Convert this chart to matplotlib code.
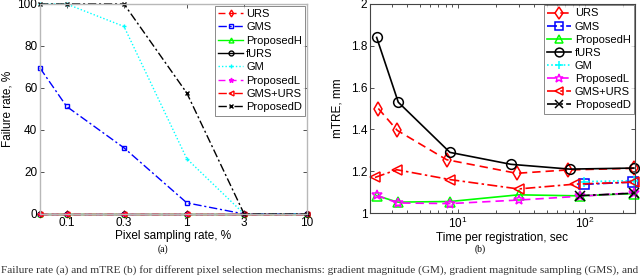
import matplotlib
matplotlib.use("Agg")
import matplotlib.pyplot as plt
from matplotlib.ticker import FixedLocator, FixedFormatter, NullFormatter, LogLocator

plt.rcParams['font.family'] = ['Liberation Sans', 'DejaVu Sans']
plt.rcParams['mathtext.fontset'] = 'custom'
plt.rcParams['mathtext.rm'] = 'Liberation Sans'

# ---------------- data (a) ----------------
rate = [0.06, 0.1, 0.3, 1, 3, 10]
fail_urs = [0, 0, 0, 0, 0, 0]
fail_gms = [69.5, 51.2, 31.5, 5.3, 0, 0]
fail_proposedh = [0, 0, 0, 0, 0, 0]
fail_furs = [0, 0, 0, 0, 0, 0]
fail_gm = [100, 100, 89.3, 26.3, 0, 0]
fail_proposedl = [0, 0, 0, 0, 0, 0]
fail_gmsurs = [0, 0, 0, 0, 0, 0]
fail_proposedd = [100, 100, 100, 57.6, 0, 0]
rate_ticks = [0.1, 0.3, 1, 3, 10]
rate_ticklabels = ['0.1', '0.3', '1', '3', '10']

# ---------------- data (b) ----------------
t_urs = [2.36, 3.33, 8.15, 29, 73, 245]
m_urs = [1.50, 1.395, 1.255, 1.19, 1.206, 1.214]
t_gms = [98, 240]
m_gms = [1.137, 1.148]
t_proposedh = [2.3, 3.35, 8.65, 30, 91, 243]
m_proposedh = [1.083, 1.052, 1.055, 1.087, 1.082, 1.093]
t_furs = [2.29, 3.39, 8.65, 26.1, 76, 243]
m_furs = [1.84, 1.53, 1.29, 1.233, 1.21, 1.215]
t_gm = [98, 243]
m_gm = [1.15, 1.155]
t_proposedl = [2.3, 3.35, 8.65, 30, 91, 243]
m_proposedl = [1.084, 1.048, 1.045, 1.062, 1.08, 1.097]
t_gmsurs = [2.22, 3.3, 8.65, 30, 83, 245]
m_gmsurs = [1.17, 1.207, 1.16, 1.115, 1.138, 1.148]
t_proposedd = [91, 245]
m_proposedd = [1.083, 1.095]
mtre_ticks = [1, 1.2, 1.4, 1.6, 1.8, 2]
mtre_ticklabels = ['1', '1.2', '1.4', '1.6', '1.8', '2']

labels = ['URS', 'GMS', 'ProposedH', 'fURS', 'GM', 'ProposedL', 'GMS+URS', 'ProposedD']
colors = ['#ff0000', '#0000ff', '#00ff00', '#000000', '#00ffff', '#ff00ff', '#ff0000', '#000000']
styles = [(0, (5, 3)), (0, (6, 2, 1.5, 2)), '-', '-', (0, (1, 1.5)), (0, (5, 3)), (0, (6, 2, 1.5, 2)), (0, (6, 2, 1.5, 2))]
markers = ['d', 's', '^', 'o', '+', '*', '<', 'x']

FS = 8.5
fig = plt.figure(figsize=(6.4, 2.77), dpi=100)

# ---------------- panel (a) ----------------
ax1 = fig.add_axes([40/640, 1-214/277, 267/640, 210/277])
series_a = [fail_urs, fail_gms, fail_proposedh, fail_furs, fail_gm, fail_proposedl, fail_gmsurs, fail_proposedd]
for y, lab, c, ls, mk in zip(series_a, labels, colors, styles, markers):
    ax1.plot(rate, y, color=c, linestyle=ls, marker=mk, markersize=3.5,
             markerfacecolor='none', markeredgewidth=1.0, linewidth=1.0, label=lab, clip_on=False)
ax1.set_xscale('log')
ax1.set_xlim(0.06, 10)
ax1.set_ylim(0, 100)
ax1.xaxis.set_major_locator(FixedLocator(rate_ticks))
ax1.xaxis.set_major_formatter(FixedFormatter(rate_ticklabels))
ax1.xaxis.set_minor_locator(FixedLocator([]))
ax1.xaxis.set_minor_formatter(NullFormatter())
ax1.set_yticks([0, 20, 40, 60, 80, 100])
ax1.tick_params(direction='in', top=True, right=True, labelsize=FS, length=3, width=0.6, colors='#333333', labelcolor='black', pad=2)
for s in ax1.spines.values():
    s.set_color('#b8b8b8')
    s.set_linewidth(1.0)
ax1.set_xlabel('Pixel sampling rate, %', fontsize=FS, labelpad=1)
ax1.set_ylabel('Failure rate, %', fontsize=FS, labelpad=3)
leg1 = ax1.legend(loc='upper right', fontsize=8, frameon=True, fancybox=False,
                  borderaxespad=0.15, handlelength=2.2, handletextpad=0.3,
                  labelspacing=0.3, borderpad=0.3)
leg1.get_frame().set_edgecolor('#555555')
leg1.get_frame().set_linewidth(0.6)

# ---------------- panel (b) ----------------
ax2 = fig.add_axes([370/640, 1-213/277, 265/640, 209/277])
series_b = [(t_urs, m_urs), (t_gms, m_gms), (t_proposedh, m_proposedh), (t_furs, m_furs),
            (t_gm, m_gm), (t_proposedl, m_proposedl), (t_gmsurs, m_gmsurs), (t_proposedd, m_proposedd)]
for (t, m), lab, c, ls, mk in zip(series_b, labels, colors, styles, markers):
    ax2.plot(t, m, color=c, linestyle=ls, marker=mk, markersize=7,
             markerfacecolor='none', markeredgewidth=1.1, linewidth=1.2, label=lab, clip_on=False)
ax2.set_xscale('log')
ax2.set_xlim(2.03, 248)
ax2.set_ylim(1, 2)
ax2.xaxis.set_major_locator(FixedLocator([10, 100]))
ax2.xaxis.set_major_formatter(FixedFormatter([r'$\mathregular{10^{1}}$', r'$\mathregular{10^{2}}$']))
ax2.xaxis.set_minor_locator(LogLocator(base=10, subs=range(2, 10)))
ax2.xaxis.set_minor_formatter(NullFormatter())
ax2.set_yticks(mtre_ticks)
ax2.set_yticklabels(mtre_ticklabels)
ax2.tick_params(which='both', direction='in', top=True, right=True, labelsize=FS, width=0.6, colors='#333333', labelcolor='black', pad=2)
ax2.tick_params(which='major', length=3)
ax2.tick_params(which='minor', length=2)
for s in ax2.spines.values():
    s.set_color('#444444')
    s.set_linewidth(0.8)
ax2.set_xlabel('Time per registration, sec', fontsize=FS, labelpad=1)
ax2.set_ylabel('mTRE, mm', fontsize=FS, labelpad=5)
leg2 = ax2.legend(loc='upper right', fontsize=8, frameon=True, fancybox=False,
                  borderaxespad=0.1, handlelength=2.2, handletextpad=0.3,
                  labelspacing=0.28, borderpad=0.3, markerscale=0.9)
leg2.get_frame().set_edgecolor('#555555')
leg2.get_frame().set_linewidth(0.6)

# panel captions
fig.text(163/640, 1-249/277, '(a)', family=['Liberation Serif', 'DejaVu Serif'], fontsize=7, ha='center', va='center')
fig.text(480/640, 1-249/277, '(b)', family=['Liberation Serif', 'DejaVu Serif'], fontsize=7, ha='center', va='center')
fig.text(0.002, 1-270/277,
         'Failure rate (a) and mTRE (b) for different pixel selection mechanisms: gradient magnitude (GM), gradient magnitude sampling (GMS), and',
         family=['Liberation Serif', 'DejaVu Serif'], fontsize=8.1, ha='left', va='center', color='#333333')

fig.savefig('out.png', dpi=100)
